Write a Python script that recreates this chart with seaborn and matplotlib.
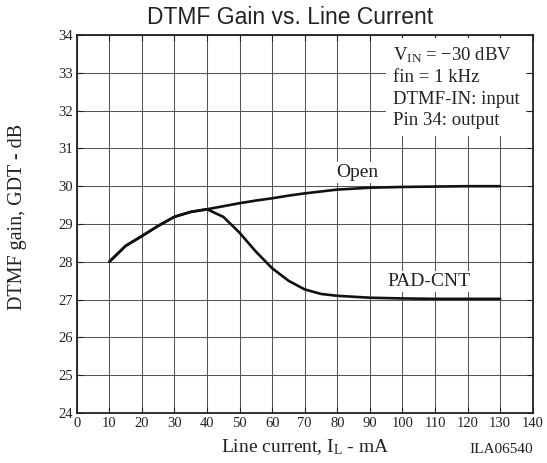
import matplotlib
matplotlib.use("Agg")
import matplotlib.pyplot as plt
import seaborn as sns
import pandas as pd

# ---- data ----
line_current = [10, 15, 20, 25, 30, 35, 40, 45, 50, 55, 60, 65, 70, 75, 80, 90, 100, 110, 120, 130]
gain_open = [28.0, 28.42, 28.68, 28.95, 29.19, 29.32, 29.39, 29.47, 29.55, 29.62, 29.68, 29.75,
             29.81, 29.86, 29.91, 29.96, 29.98, 29.99, 30.0, 30.0]
gain_padcnt = [28.0, 28.42, 28.68, 28.95, 29.19, 29.32, 29.39, 29.19, 28.77, 28.27, 27.83, 27.5,
               27.27, 27.15, 27.1, 27.05, 27.03, 27.02, 27.02, 27.02]
series_names = ["Open", "PAD-CNT"]
x_ticks = list(range(0, 141, 10))
y_ticks = list(range(24, 35))
title = "DTMF Gain vs. Line Current"
conditions = ["V$\\mathregular{_{IN}}$ = \u221230 dBV", "fin = 1 kHz", "DTMF-IN: input", "Pin 34: output"]

df = pd.DataFrame({
    "current": line_current * 2,
    "gain": gain_open + gain_padcnt,
    "series": [series_names[0]] * len(line_current) + [series_names[1]] * len(line_current),
})

sns.set_theme(style="white")
plt.rcParams["font.family"] = ["Liberation Serif", "DejaVu Serif"]
plt.rcParams["mathtext.default"] = "regular"

fig = plt.figure(figsize=(5.47, 4.63), dpi=100)
ax = fig.add_axes([0.1402, 0.108, 0.8337, 0.8164])

sns.lineplot(data=df, x="current", y="gain", hue="series", palette=["#111111", "#111111"],
             legend=False, linewidth=1.9, ax=ax, zorder=4)

ax.set_xlim(0, 140)
ax.set_ylim(24, 34)
ax.set_xticks(x_ticks)
ax.set_yticks(y_ticks)
ax.tick_params(axis="both", labelsize=10.5, colors="#222222", direction="in", length=4, width=0.8,
               top=True, right=True, bottom=True, left=True, pad=3)
ax.grid(True, color="#555555", linewidth=0.75)
for s in ax.spines.values():
    s.set_color("#222222")
    s.set_linewidth(1.3)
    s.set_zorder(6)

ax.set_xlabel("Line current, I$\\mathregular{_L}$ - mA", fontsize=14, color="#222222")
ax.xaxis.set_label_coords(0.5, -0.065)
ax.set_ylabel("DTMF gain, GDT - dB", fontsize=14.5, color="#222222")
ax.yaxis.set_label_coords(-0.11, 0.518)

fig.text(0.530, 0.962, title, ha="center", va="center", fontsize=16.5,
         family=["Liberation Sans", "DejaVu Sans"], color="#222222")

ax.text(0.693, 0.972, "\n".join(conditions), transform=ax.transAxes, ha="left", va="top",
        fontsize=13.5, color="#222222", linespacing=1.32, zorder=5,
        bbox=dict(facecolor="white", edgecolor="none", pad=5))

ax.text(86, 30.36, series_names[0], ha="center", va="center", fontsize=14, color="#222222",
        zorder=5, bbox=dict(facecolor="white", edgecolor="none", pad=1.5))
ax.text(108, 27.47, series_names[1], ha="center", va="center", fontsize=14, color="#222222",
        zorder=5, bbox=dict(facecolor="white", edgecolor="none", pad=1.5))

fig.text(0.974, 0.030, "ILA06540", ha="right", va="center", fontsize=11, color="#222222")

fig.savefig("out.png", dpi=100)
